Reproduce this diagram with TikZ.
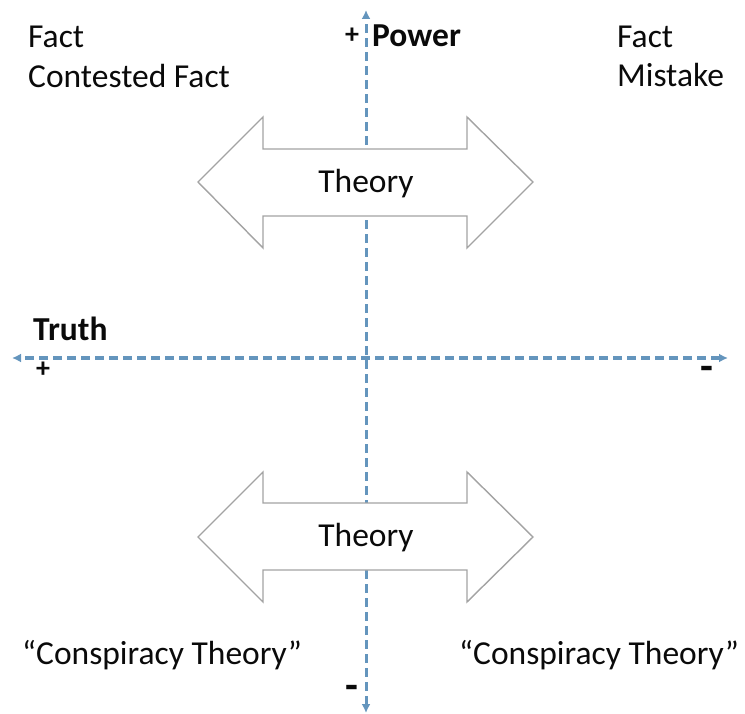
\documentclass[tikz,border=0pt]{standalone}
\usepackage{fontspec}
\setmainfont{Carlito}
\usepackage{xcolor}
\definecolor{cAxis}{HTML}{6495BD}
\definecolor{cOutline}{HTML}{A3A3A3}
\definecolor{cText}{HTML}{0A0A0A}
\usepackage{tikz}
\usetikzlibrary{arrows.meta}
\tikzset{
  axis-line/.style={{Latex[length=9pt,width=9pt]}-{Latex[length=9pt,width=9pt]},
    line width=3pt,draw=cAxis,dash pattern=on 9pt off 5pt},
  theory-arrow/.style={draw=cOutline,line width=1.4pt,fill=white,line join=miter},
  label-text/.style={inner sep=0pt,anchor=base west,text=cText,
    font=\fontsize{33.5}{40}\selectfont},
  label-bold/.style={label-text,font=\fontsize{33.5}{40}\selectfont\bfseries},
  plus-text/.style={inner sep=0pt,text=cText,font=\fontsize{28}{32}\selectfont\bfseries},
  minus-text/.style={inner sep=0pt,text=cText,font=\fontsize{42}{46}\selectfont\bfseries},
  theory-text/.style={inner sep=0pt,text=cText,font=\fontsize{33.5}{40}\selectfont},
}

\begin{document}
\begin{tikzpicture}[x=1pt,y=-1pt]
  \useasboundingbox (0,0) rectangle (745,714);
  % axes
  \coordinate (powerHigh) at (366,10);
  \coordinate (powerLow) at (366,713);
  \coordinate (truthHigh) at (12,358);
  \coordinate (truthLow) at (728,358);
  \draw[axis-line] (powerLow) -- (powerHigh);
  \draw[axis-line] (truthLow) -- (truthHigh);

  % upper theory arrow
  \draw[theory-arrow] (198,182) -- (263,117) -- (263,149) -- (467,149) -- (467,117)
    -- (533,182) -- (467,248) -- (467,216) -- (263,216) -- (263,248) -- cycle;
  \node[theory-text] (theoryUp) at (366,184) {Theory};
  % lower theory arrow
  \draw[theory-arrow] (198,537) -- (263,472) -- (263,503) -- (467,503) -- (467,472)
    -- (533,537) -- (467,602) -- (467,570) -- (263,570) -- (263,602) -- cycle;
  \node[theory-text] (theoryDown) at (366,538) {Theory};

  % axis labels
  \node[label-bold] (power) at (372,47) {Power};
  \node[plus-text] (powerPlus) at (352,36) {+};
  \node[minus-text] (powerMinus) at (352,692) {-};
  \node[label-bold] (truth) at (33,341) {Truth};
  \node[plus-text] (truthPlus) at (43,370) {+};
  \node[minus-text] (truthMinus) at (707,373) {-};

  % quadrant labels
  \node[label-text] (factLeft) at (28,48) {Fact};
  \node[label-text] (contested) at (28,88) {Contested Fact};
  \node[label-text] (factRight) at (617,48) {Fact};
  \node[label-text] (mistake) at (617,87) {Mistake};
  \node[label-text] (conspLeft) at (22,664) {“Conspiracy Theory”};
  \node[label-text] (conspRight) at (459,664) {“Conspiracy Theory”};
\end{tikzpicture}
\end{document}
